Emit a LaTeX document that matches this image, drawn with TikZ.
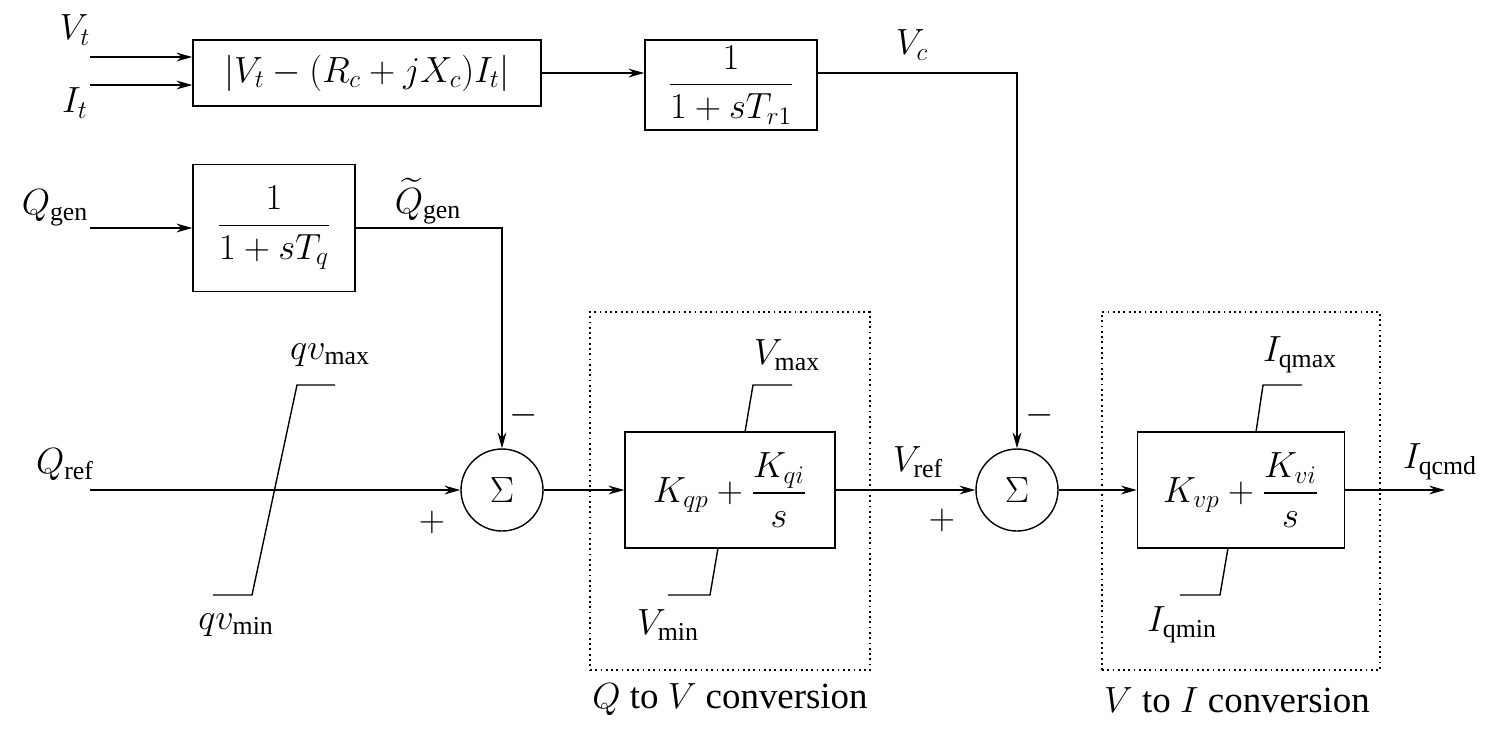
\documentclass[tikz,border=0pt]{standalone}
\usepackage{amsmath}
\usepackage{fontspec}
\setmainfont{Liberation Serif}
\usetikzlibrary{arrows.meta}
\begin{document}
\begin{tikzpicture}[x=0.02cm,y=-0.02cm,line width=0.8pt,
  every node/.style={font=\fontsize{21}{25}\selectfont},
  blk/.style={draw,minimum width=#1*0.02cm,inner sep=0pt},
  sum/.style={draw,circle,minimum size=82*0.02cm,inner sep=0pt},
  arr/.style={-{Stealth[length=9pt,width=5pt]}},
  dot/.style={draw,dotted,line width=1pt},
  lbl/.style={inner sep=0pt}]
\useasboundingbox (0,0) rectangle (1497,735);
% blocks
\node[blk=348,minimum height=66*0.02cm] (b1) at (367,73) {$|V_t-(R_c+jX_c)I_t|$};
\node[blk=172,minimum height=90*0.02cm] (b2) at (731,85) {$\dfrac{1}{1+sT_{r1}}$};
\node[blk=162,minimum height=127*0.02cm] (b3) at (274,228) {$\dfrac{1}{1+sT_q}$};
\node[sum] (s1) at (502,490) {$\Sigma$};
\node[sum] (s2) at (1017,490) {$\Sigma$};
\node[blk=210,minimum height=116*0.02cm] (p1) at (730,490) {$K_{qp}+\dfrac{K_{qi}}{s}$};
\node[blk=207,minimum height=116*0.02cm] (p2) at (1241,490) {$K_{vp}+\dfrac{K_{vi}}{s}$};
\node[dot,minimum width=280*0.02cm,minimum height=358*0.02cm] (d1) at (730,491) {};
\node[dot,minimum width=278*0.02cm,minimum height=358*0.02cm] (d2) at (1241,491) {};
% coordinates
\coordinate (vt) at (90,57); \coordinate (it) at (90,85);
\coordinate (qg) at (90,228); \coordinate (qr) at (90,490);
\coordinate (out) at (1445,490);
% labels
\node[lbl] at (75,30) {$V_t$};
\node[lbl] at (75,103) {$I_t$};
\node[lbl] at (912,45) {$V_c$};
\node[lbl] at (55,208) {$Q_{\mathrm{gen}}$};
\node[lbl] at (428,201) {$\widetilde{Q}_{\mathrm{gen}}$};
\node[lbl] at (65,465) {$Q_{\mathrm{ref}}$};
\node[lbl] at (330,355) {$qv_{\max}$};
\node[lbl] at (236,625) {$qv_{\min}$};
\node[lbl] at (787,355) {$V_{\max}$};
\node[lbl] at (668,625) {$V_{\min}$};
\node[lbl] at (918,462) {$V_{\mathrm{ref}}$};
\node[lbl] at (1300,355) {$I_{\mathrm{qmax}}$};
\node[lbl] at (1182,625) {$I_{\mathrm{qmin}}$};
\node[lbl] at (1440,462) {$I_{\mathrm{qcmd}}$};
\node[lbl] at (524,415) {$-$};
\node[lbl] at (432,522) {$+$};
\node[lbl] at (1040,415) {$-$};
\node[lbl] at (942,520) {$+$};
\node[lbl] at (730,700) {$Q$ to $V$ conversion};
\node[lbl] at (1237,700) {$V$ to $I$ conversion};
% connectors
\draw[arr] (vt) -- (vt-|b1.west);
\draw[arr] (it) -- (it-|b1.west);
\draw[arr] (b1.east) -- (b1.east-|b2.west);
\draw[arr] (b2.east|-b1.east) -| (s2.north);
\draw[arr] (qg) -- (b3.west);
\draw[arr] (b3.east) -| (s1.north);
\draw[arr] (qr) -- (s1.west);
\draw[arr] (s1.east) -- (p1.west);
\draw[arr] (p1.east) -- (s2.west);
\draw[arr] (s2.east) -- (p2.west);
\draw[arr] (p2.east) -- (out);
% limiters
\draw (213,595) -- (252,595) -- (297,385) -- (335,385);
\draw (745,432) -- (753,385) -- (792,385);
\draw (718,548) -- (710,595) -- (668,595);
\draw (1256,432) -- (1263,385) -- (1302,385);
\draw (1228,548) -- (1220,595) -- (1180,595);
\end{tikzpicture}
\end{document}
